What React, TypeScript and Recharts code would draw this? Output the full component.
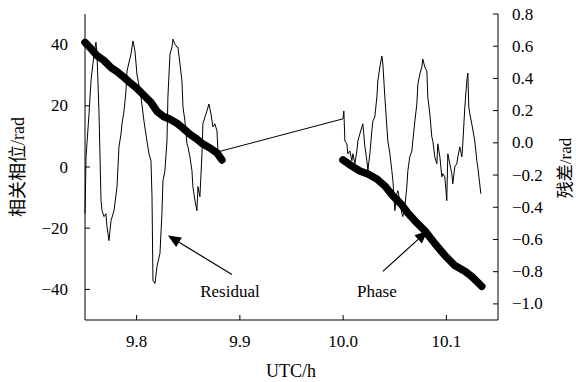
import React from "react";
import { LineChart, Line, XAxis, YAxis, ReferenceLine, ReferenceDot } from "recharts";

// UTC time (h) and residual (rad), right axis
const residualPoints: [number, number][] = [
  [9.75, -0.44], [9.751, -0.087], [9.7539, 0.18], [9.7558, 0.384], [9.7587, 0.551], [9.7606, 0.625],
  [9.7616, 0.551], [9.7636, 0.18], [9.7655, -0.359], [9.7665, -0.421], [9.7684, -0.458], [9.7703, -0.44],
  [9.7713, -0.52], [9.7732, -0.607], [9.7752, -0.483], [9.7781, -0.421], [9.781, -0.272], [9.7829, -0.025],
  [9.7849, 0.056], [9.7858, 0.118], [9.7878, 0.198], [9.7897, 0.322], [9.7907, 0.446], [9.7945, 0.551],
  [9.7965, 0.632], [9.7984, 0.57], [9.8003, 0.427], [9.8042, 0.285], [9.8071, 0.136], [9.81, 0.012],
  [9.812, -0.068], [9.8139, -0.111], [9.8149, -0.334], [9.8158, -0.854], [9.8178, -0.873], [9.8197, -0.768],
  [9.8226, -0.687], [9.8245, -0.44], [9.8255, -0.235], [9.8274, -0.173], [9.8294, 0.012], [9.8303, 0.285],
  [9.8323, 0.551], [9.8342, 0.594], [9.8352, 0.644], [9.8371, 0.613], [9.8391, 0.594], [9.84, 0.594],
  [9.842, 0.489], [9.8439, 0.384], [9.8449, 0.223], [9.8468, 0.136], [9.8487, -0.006], [9.8497, -0.025],
  [9.8516, -0.087], [9.8536, -0.173], [9.8545, -0.272], [9.8565, -0.359], [9.8584, -0.421], [9.8594, -0.272],
  [9.8613, -0.334], [9.8633, -0.068], [9.8642, 0.118], [9.8662, 0.161], [9.8681, 0.198], [9.87, 0.241],
  [9.872, 0.18], [9.8739, 0.099], [9.8758, 0.118], [9.8778, 0.074], [9.8788, -0.056],
  [9.9998, 0.149], [10.0007, 0.198], [10.0017, 0.012], [10.0036, -0.006], [10.0046, -0.068], [10.0065, -0.05],
  [10.0085, -0.111], [10.0094, -0.068], [10.0114, -0.13], [10.0133, -0.05], [10.0143, 0.012], [10.0162, 0.056],
  [10.0182, 0.099], [10.0191, 0.118], [10.0211, -0.025], [10.023, -0.111], [10.024, -0.173], [10.0259, -0.068],
  [10.0278, 0.074], [10.0288, 0.136], [10.0307, 0.161], [10.0327, 0.285], [10.0336, 0.384], [10.0356, 0.471],
  [10.0375, 0.539], [10.0385, 0.489], [10.0404, 0.285], [10.0433, 0.012], [10.0453, -0.068], [10.0472, -0.173],
  [10.0482, -0.235], [10.0501, -0.421], [10.052, -0.316], [10.053, -0.297], [10.0549, -0.359], [10.0569, -0.44],
  [10.0578, -0.458], [10.0598, -0.396], [10.0617, -0.272], [10.0627, -0.173], [10.0646, -0.087], [10.0666, -0.05],
  [10.0675, 0.012], [10.0695, 0.136], [10.0714, 0.241], [10.0724, 0.365], [10.0743, 0.427], [10.0762, 0.471],
  [10.0772, 0.52], [10.0791, 0.471], [10.0811, 0.446], [10.082, 0.285], [10.084, 0.18], [10.0859, 0.037],
  [10.0869, 0.012], [10.0888, -0.087], [10.0908, -0.13], [10.0917, -0.006], [10.0937, -0.087], [10.0956, -0.211],
  [10.0966, -0.192], [10.0985, -0.211], [10.1004, -0.359], [10.1014, -0.068], [10.1033, -0.13], [10.1053, -0.192],
  [10.1062, -0.254], [10.1082, -0.149], [10.1101, -0.13], [10.1111, -0.087], [10.113, -0.025], [10.115, -0.087],
  [10.1159, -0.006], [10.1179, 0.223], [10.1198, 0.384], [10.1208, 0.433], [10.1217, 0.223], [10.1227, 0.18],
  [10.1246, 0.118], [10.1275, 0.012], [10.1295, -0.111], [10.1304, -0.149], [10.1334, -0.316],
];

// UTC time (h) and correlated phase (rad), left axis, two segments
const phaseSegment1: [number, number][] = [
  [9.75, 40.7], [9.7558, 38.7], [9.7616, 36.4], [9.7684, 34.8], [9.7752, 32.5], [9.781, 31.2],
  [9.7878, 29.3], [9.7945, 27.3], [9.8003, 25.7], [9.8071, 23.4], [9.8139, 21.1], [9.8197, 18.2],
  [9.8255, 16.6], [9.8323, 15.6], [9.8391, 14.3], [9.8449, 12.7], [9.8516, 10.7], [9.8584, 9.1],
  [9.8642, 7.5], [9.871, 6.2], [9.8778, 4.6], [9.8826, 2.3],
];
const phaseSegment2: [number, number][] = [
  [9.9998, 2.3], [10.0085, 0.3], [10.0162, -1.3], [10.024, -2.3], [10.0327, -3.9], [10.0404, -6.2],
  [10.0482, -9.4], [10.0569, -12.4], [10.0627, -15.0], [10.0695, -17.6], [10.0791, -20.8], [10.0888, -25.0],
  [10.0985, -28.9], [10.1082, -32.2], [10.1179, -34.1], [10.1246, -35.8], [10.1343, -39.0],
];

const xTicks = [9.8, 9.9, 10.0, 10.1];
const leftTicks = [-40, -20, 0, 20, 40];
const rightTicks = [-1.0, -0.8, -0.6, -0.4, -0.2, 0.0, 0.2, 0.4, 0.6, 0.8];

// annotations (data coordinates on left axis)
const residualArrow = { from: [9.8923, -35.1], to: [9.8303, -22.4], text: [9.8904, -40.7], label: "Residual" };
const phaseArrow = { from: [10.0385, -34.1], to: [10.082, -20.8], text: [10.0327, -40.7], label: "Phase" };

const residualData = residualPoints.map(([t, r]) => ({ t, r }));
const phaseData = [
  ...phaseSegment1.map(([t, p]) => ({ t, p })),
  { t: 9.94, p: null },
  ...phaseSegment2.map(([t, p]) => ({ t, p })),
];

const SERIF: React.CSSProperties = { fontFamily: "'Liberation Serif', 'Times New Roman', serif" };
const CJK: React.CSSProperties = { fontFamily: "'Liberation Serif', 'Noto Sans CJK SC', serif" };
const fmtMinus = (s: string) => s.replace("-", "\u2212");

const XTick = (props: any) => {
  const { x, y, payload } = props;
  return (
    <g>
      <line x1={x} y1={y} x2={x} y2={y - 5} stroke="#000" strokeWidth={1} />
      <text x={x} y={y + 21} textAnchor="middle" dominantBaseline="central" style={SERIF} fontSize={17} fill="#000">
        {Number(payload.value).toFixed(1)}
      </text>
    </g>
  );
};

const LeftTick = (props: any) => {
  const { x, y, payload } = props;
  return (
    <g>
      <line x1={x} y1={y} x2={x + 5} y2={y} stroke="#000" strokeWidth={1} />
      <text x={x - 17} y={y} textAnchor="end" dominantBaseline="central" style={SERIF} fontSize={17} fill="#000">
        {fmtMinus(String(payload.value))}
      </text>
    </g>
  );
};

const RightTick = (props: any) => {
  const { x, y, payload } = props;
  return (
    <g>
      <line x1={x} y1={y} x2={x - 5} y2={y} stroke="#000" strokeWidth={1} />
      <text x={x + 14} y={y} textAnchor="start" dominantBaseline="central" style={SERIF} fontSize={17} fill="#000">
        {fmtMinus(Number(payload.value).toFixed(1))}
      </text>
    </g>
  );
};

const ArrowShape = (props: any) => {
  const { x1, y1, x2, y2 } = props;
  const ang = Math.atan2(y2 - y1, x2 - x1);
  const len = 13;
  const w = 5.5;
  const bx = x2 - len * Math.cos(ang);
  const by = y2 - len * Math.sin(ang);
  const px = -Math.sin(ang) * w;
  const py = Math.cos(ang) * w;
  return (
    <g>
      <line x1={x1} y1={y1} x2={bx} y2={by} stroke="#000" strokeWidth={1.2} />
      <polygon points={`${x2},${y2} ${bx + px},${by + py} ${bx - px},${by - py}`} fill="#000" />
    </g>
  );
};

const textShape = (label: string) => (props: any) => (
  <text x={props.cx} y={props.cy} textAnchor="middle" dominantBaseline="central" style={SERIF} fontSize={17} fill="#000">
    {label}
  </text>
);

export default function App() {
  return (
    <div style={{ position: "absolute", left: 0, top: 0, width: 576, height: 382, background: "#fff" }}>
      <LineChart width={576} height={382} margin={{ top: 14, right: 0, bottom: 0, left: 0 }}>
        <XAxis
          type="number"
          dataKey="t"
          domain={[9.75, 10.15]}
          ticks={xTicks}
          allowDuplicatedCategory={false}
          height={62}
          tickSize={0}
          tickMargin={0}
          tick={<XTick />}
          axisLine={{ stroke: "#000", strokeWidth: 1 }}
        />
        <YAxis
          yAxisId="left"
          orientation="left"
          domain={[-50, 50]}
          ticks={leftTicks}
          width={85}
          tickSize={0}
          tickMargin={0}
          tick={<LeftTick />}
          axisLine={{ stroke: "#000", strokeWidth: 1 }}
        />
        <YAxis
          yAxisId="right"
          orientation="right"
          domain={[-1.1, 0.8]}
          ticks={rightTicks}
          width={78}
          tickSize={0}
          tickMargin={0}
          tick={<RightTick />}
          axisLine={{ stroke: "#000", strokeWidth: 1 }}
        />
        <Line
          yAxisId="right"
          data={residualData}
          dataKey="r"
          type="linear"
          stroke="#000"
          strokeWidth={1}
          dot={false}
          isAnimationActive={false}
        />
        <Line
          yAxisId="left"
          data={phaseData}
          dataKey="p"
          type="linear"
          stroke="#000"
          strokeWidth={7.5}
          strokeLinecap="round"
          strokeLinejoin="round"
          dot={false}
          connectNulls={false}
          isAnimationActive={false}
        />
        <ReferenceLine
          yAxisId="left"
          segment={[
            { x: residualArrow.from[0], y: residualArrow.from[1] },
            { x: residualArrow.to[0], y: residualArrow.to[1] },
          ]}
          shape={ArrowShape}
        />
        <ReferenceLine
          yAxisId="left"
          segment={[
            { x: phaseArrow.from[0], y: phaseArrow.from[1] },
            { x: phaseArrow.to[0], y: phaseArrow.to[1] },
          ]}
          shape={ArrowShape}
        />
        <ReferenceDot yAxisId="left" x={residualArrow.text[0]} y={residualArrow.text[1]} r={0} shape={textShape(residualArrow.label)} />
        <ReferenceDot yAxisId="left" x={phaseArrow.text[0]} y={phaseArrow.text[1]} r={0} shape={textShape(phaseArrow.label)} />
        <text x={18} y={167} transform="rotate(-90 18 167)" textAnchor="middle" dominantBaseline="central" style={CJK} fontSize={18} fill="#000">
          相关相位/rad
        </text>
        <text x={565} y={168} transform="rotate(-90 565 168)" textAnchor="middle" dominantBaseline="central" style={CJK} fontSize={17} fill="#000">
          残差/rad
        </text>
        <text x={291} y={371} textAnchor="middle" dominantBaseline="central" style={SERIF} fontSize={18} fill="#000">
          UTC/h
        </text>
      </LineChart>
    </div>
  );
}
